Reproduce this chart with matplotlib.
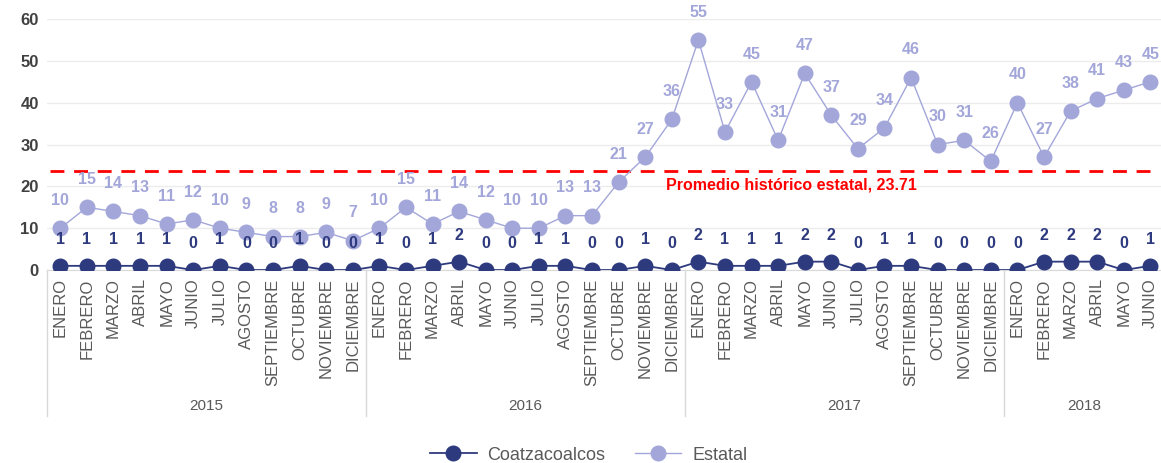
import matplotlib.pyplot as plt
from matplotlib.lines import Line2D

plt.rcParams['font.family'] = ['Liberation Sans', 'DejaVu Sans']

# datos
meses_2015 = ["ENERO", "FEBRERO", "MARZO", "ABRIL", "MAYO", "JUNIO", "JULIO", "AGOSTO",
              "SEPTIEMBRE", "OCTUBRE", "NOVIEMBRE", "DICIEMBRE"]
anios = ["2015", "2016", "2017", "2018"]
meses_por_anio = [12, 12, 12, 6]
meses = meses_2015 * 3 + meses_2015[:6]

coatzacoalcos = [1, 1, 1, 1, 1, 0, 1, 0, 0, 1, 0, 0,
                 1, 0, 1, 2, 0, 0, 1, 1, 0, 0, 1, 0,
                 2, 1, 1, 1, 2, 2, 0, 1, 1, 0, 0, 0,
                 0, 2, 2, 2, 0, 1]
estatal = [10, 15, 14, 13, 11, 12, 10, 9, 8, 8, 9, 7,
           10, 15, 11, 14, 12, 10, 10, 13, 13, 21, 27, 36,
           55, 33, 45, 31, 47, 37, 29, 34, 46, 30, 31, 26,
           40, 27, 38, 41, 43, 45]
promedio = 23.71

color_coatza = "#2e3a7e"
color_estatal = "#a3a6d9"
gris = "#595959"


def grafica():
    fig = plt.figure(figsize=(11.61, 4.63), dpi=100)
    ax = fig.add_axes([0.0405, 0.4168, 0.9595, 0.542])
    x = list(range(len(meses)))

    ax.plot(x, estatal, color=color_estatal, lw=1, marker="o", ms=10.5, zorder=3, label="Estatal")
    ax.plot(x, coatzacoalcos, color=color_coatza, lw=1.3, marker="o", ms=10.5, zorder=4,
            label="Coatzacoalcos")

    for i, v in enumerate(estatal):
        ax.annotate(str(v), (i, v), xytext=(0, 20), textcoords="offset points", ha="center",
                    va="center", color=color_estatal, fontsize=11.5, fontweight="bold")
    for i, v in enumerate(coatzacoalcos):
        ax.annotate(str(v), (i, v), xytext=(0, 19), textcoords="offset points", ha="center",
                    va="center", color=color_coatza, fontsize=11.5, fontweight="bold")

    # promedio historico
    ax.axhline(promedio, xmin=0.003, xmax=0.99, color="#ff0000", lw=2, ls=(0, (5, 3.5)), zorder=2)
    ax.text(27.5, promedio - 3.5, "Promedio histórico estatal, 23.71", color="#ff0000",
            fontsize=11.5, fontweight="bold", ha="center", va="center")

    ax.set_xlim(-0.5, 41.4)
    ax.set_ylim(0, 60)
    ax.set_yticks(range(0, 61, 10))
    ax.tick_params(axis="y", length=0, labelsize=12, labelcolor="#404040", pad=6)
    for t in ax.get_yticklabels():
        t.set_fontweight("bold")
    ax.grid(axis="y", color="#ececec", lw=1, zorder=0)
    ax.set_axisbelow(True)

    ax.set_xticks(x)
    ax.set_xticklabels(meses, rotation=90, fontsize=12, color=gris, va="top")
    ax.tick_params(axis="x", length=0, pad=6)

    for s in ["top", "right", "left"]:
        ax.spines[s].set_visible(False)
    ax.spines["bottom"].set_color("#d9d9d9")

    # separadores y etiquetas de anio
    trans = ax.get_xaxis_transform()
    inicio = 0
    for anio, n in zip(anios, meses_por_anio):
        ax.plot([inicio - 0.5, inicio - 0.5], [0, -0.58], transform=trans, color="#d9d9d9",
                lw=1, clip_on=False)
        ax.text(inicio + (n - 1) / 2, -0.54, anio, transform=trans, ha="center", va="center",
                fontsize=11, color=gris)
        inicio += n

    handles = [Line2D([], [], color=color_coatza, marker="o", ms=10.5, lw=1.3),
               Line2D([], [], color=color_estatal, marker="o", ms=10.5, lw=1)]
    fig.legend(handles, ["Coatzacoalcos", "Estatal"], loc="center", bbox_to_anchor=(0.507, 0.017),
               ncol=2, frameon=False, fontsize=13, labelcolor=gris, handlelength=2.6,
               handletextpad=0.6, columnspacing=1.6)

    fig.savefig("out.png", dpi=100)


grafica()
